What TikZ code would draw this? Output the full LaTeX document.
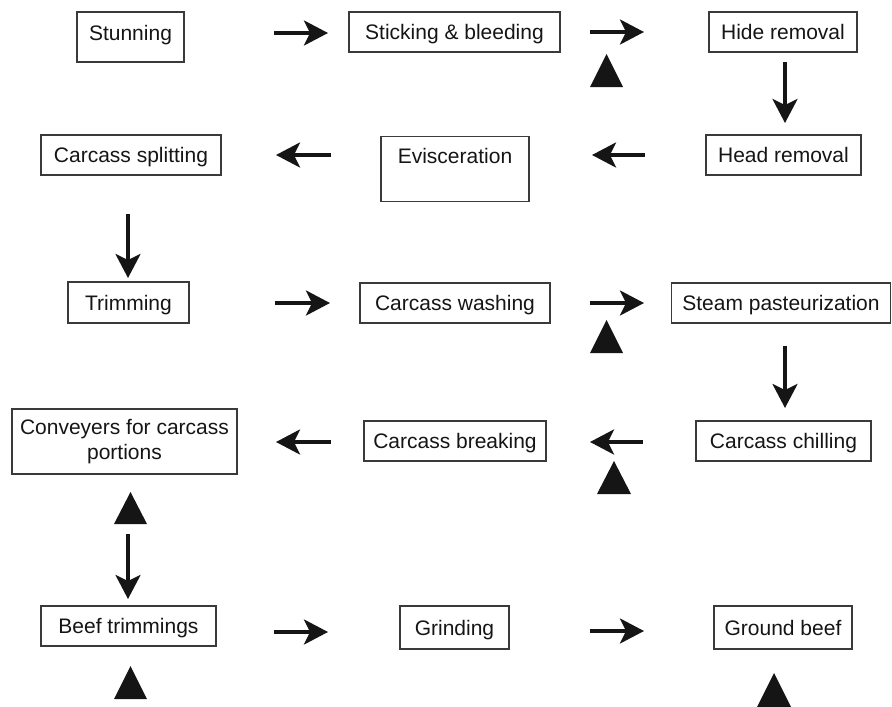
\documentclass[tikz,border=0pt]{standalone}
\usepackage{fontspec}
\setmainfont{Liberation Sans}
\usetikzlibrary{arrows.meta}
\definecolor{boxline}{HTML}{3A3A3A}
\definecolor{ink}{HTML}{151515}
\tikzset{
  boxbase/.style={draw=boxline, line width=1.1pt, inner sep=0pt, minimum height=40pt, align=center,
    font=\fontsize{21}{25}\selectfont, text=ink},
  box/.style={boxbase, text height=15pt, text depth=0pt},
  arr/.style={draw=ink, line width=3.2pt, -{Stealth[length=24pt,width=25pt,inset=6pt]}},
  tri/.style={fill=ink}
}
\begin{document}
\begin{tikzpicture}[x=1pt,y=-1pt]
\useasboundingbox (0,0) rectangle (892,707);
% boxes
\node[box, minimum width=107, minimum height=50, text depth=8pt] (stun) at (130.5,37) {Stunning};
\node[box, minimum width=211] (stick) at (454.5,32) {Sticking \& bleeding};
\node[box, minimum width=148] (hide) at (783,32) {Hide removal};
\node[box, minimum width=155] (head) at (783.5,155) {Head removal};
\node[box, minimum width=148, minimum height=0pt, text height=27pt, text depth=38pt, anchor=north] (evisc) at (455,136) {Evisceration};
\node[box, minimum width=180] (split) at (131,155) {Carcass splitting};
\node[box, minimum width=121, minimum height=41] (trim) at (128.5,302.5) {Trimming};
\node[box, minimum width=190] (wash) at (455,303) {Carcass washing};
\node[box, minimum width=219] (steam) at (781,303) {Steam pasteurization};
\node[box, minimum width=175] (chill) at (783.5,441) {Carcass chilling};
\node[box, minimum width=182] (brk) at (455,441) {Carcass breaking};
\node[boxbase, minimum width=225, minimum height=65] (conv) at (124.5,441.5) {Conveyers for carcass\\portions};
\node[box, minimum width=175] (beeft) at (128.5,626) {Beef trimmings};
\node[box, minimum width=109, minimum height=43] (grind) at (454.5,627.5) {Grinding};
\node[box, minimum width=138, minimum height=43] (ground) at (783,627.5) {Ground beef};
% arrow end points
\coordinate (a1s) at (274,33);  \coordinate (a1e) at (328,33);
\coordinate (a2s) at (590,32);  \coordinate (a2e) at (644,32);
\coordinate (a3s) at (785,62);  \coordinate (a3e) at (785,123);
\coordinate (a4s) at (645,155); \coordinate (a4e) at (592,155);
\coordinate (a5s) at (331,155); \coordinate (a5e) at (276,155);
\coordinate (a6s) at (128,214); \coordinate (a6e) at (128,278);
\coordinate (a7s) at (275,303); \coordinate (a7e) at (330,303);
\coordinate (a8s) at (590,303); \coordinate (a8e) at (644,303);
\coordinate (a9s) at (785,346); \coordinate (a9e) at (785,408);
\coordinate (a10s) at (643,442); \coordinate (a10e) at (590,442);
\coordinate (a11s) at (331,442); \coordinate (a11e) at (276,442);
\coordinate (a12s) at (128,534); \coordinate (a12e) at (128,599);
\coordinate (a13s) at (274,632); \coordinate (a13e) at (328,632);
\coordinate (a14s) at (590,631); \coordinate (a14e) at (644,631);
\foreach \i in {1,...,14} { \draw[arr] (a\i s) -- (a\i e); }
% triangles
\fill[tri] (590,87) -- (606.5,54) -- (623,87) -- cycle;
\fill[tri] (590,353) -- (606.5,320) -- (623,353) -- cycle;
\fill[tri] (597,494) -- (614,461) -- (631,494) -- cycle;
\fill[tri] (114,524) -- (130.5,492) -- (147,524) -- cycle;
\fill[tri] (114,699) -- (130.5,666) -- (147,699) -- cycle;
\fill[tri] (757,707) -- (774,673) -- (791,707) -- cycle;
\end{tikzpicture}
\end{document}
